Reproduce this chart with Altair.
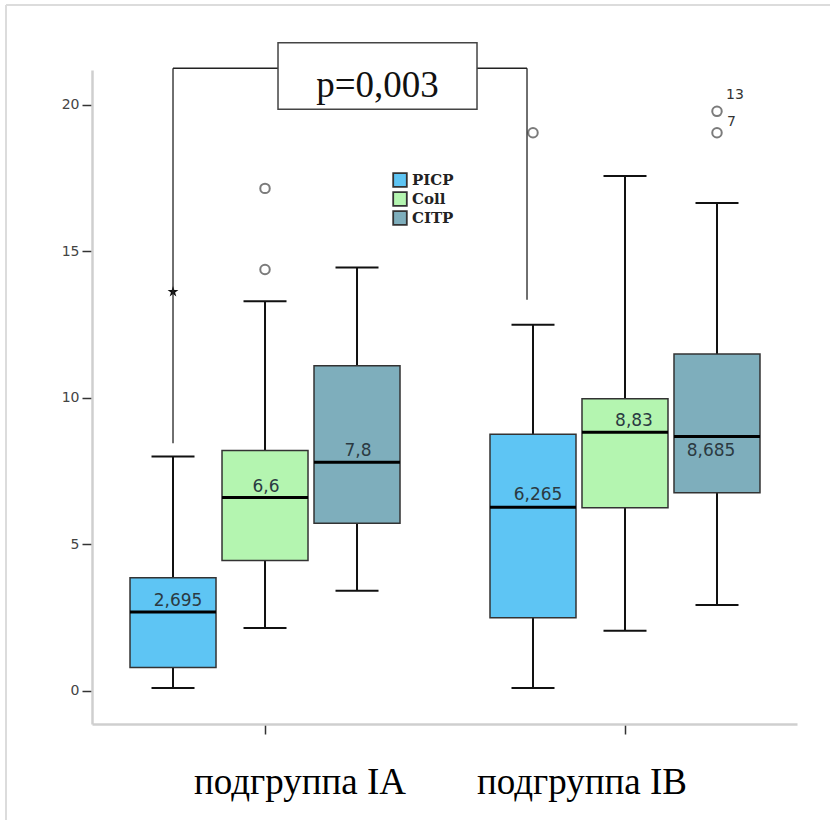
import altair as alt
import pandas as pd

# ---- values ----------------------------------------------------------------
groups = ["подгруппа IA", "подгруппа IB"]
markers = ["PICP", "Coll", "CITP"]
colors = ["#5ec5f4", "#b4f5b0", "#7eaebc"]

# box statistics, group-major order (IA: PICP, Coll, CITP; IB: PICP, Coll, CITP)
whisker_low = [0.10, 2.15, 3.42, 0.10, 2.05, 2.93]
quart1 = [0.80, 4.45, 5.72, 2.50, 6.25, 6.76]
medians = [2.695, 6.6, 7.8, 6.265, 8.83, 8.685]
quart3 = [3.86, 8.20, 11.10, 8.76, 9.97, 11.50]
whisker_high = [8.00, 13.30, 14.45, 12.50, 17.57, 16.65]
median_text = ["2,695", "6,6", "7,8", "6,265", "8,83", "8,685"]

# outliers: (group index, marker index, value, case label)
outlier_group = [0, 0, 1, 1]
outlier_marker = [1, 1, 0, 2]
outlier_value = [17.15, 14.38, 19.05, 19.05]
outlier_case = ["", "", "", "7"]
extreme_group = [0, 1]
extreme_marker = [0, 2]
extreme_value = [13.62, 19.78]
extreme_kind = ["star", "circle"]
extreme_case = ["", "13"]

p_text = "p=0,003"

# ---- layout ----------------------------------------------------------------
W, H = 705, 654
X_DOM = [0.5194, 2.4778]
Y_DOM = [-1.13, 21.19]
PX_X = W / (X_DOM[1] - X_DOM[0])
PX_Y = H / (Y_DOM[1] - Y_DOM[0])
SLOT = 92 / PX_X          # spacing between boxes inside a group
BOX_HALF = 43 / PX_X
CAP_HALF = 21.5 / PX_X

label_dx_px = [5, 1, 1, 5, 9, -6]
label_dy_px = [6, 6, 6, 7, 6, -20]   # positive = above the median line
group_label_shift_px = [35, -43]

rows = []
for gi, g in enumerate(groups):
    for mi, m in enumerate(markers):
        i = gi * 3 + mi
        c = gi + 1 + (mi - 1) * SLOT
        rows.append(dict(
            group=g, marker=m, cx=c,
            bl=c - BOX_HALF, br=c + BOX_HALF,
            cl=c - CAP_HALF, cr=c + CAP_HALF,
            lo=whisker_low[i], q1=quart1[i], med=medians[i],
            q3=quart3[i], hi=whisker_high[i], txt=median_text[i],
            tx=c + label_dx_px[i] / PX_X,
            ty=medians[i] + label_dy_px[i] / PX_Y,
        ))
boxes = pd.DataFrame(rows)

def center(gi, mi):
    return gi + 1 + (mi - 1) * SLOT

outl = pd.DataFrame(dict(
    x=[center(g, m) for g, m in zip(outlier_group, outlier_marker)],
    y=outlier_value, case=outlier_case))
extr = pd.DataFrame(dict(
    x=[center(g, m) for g, m in zip(extreme_group, extreme_marker)],
    y=extreme_value, kind=extreme_kind, case=extreme_case))

xs = alt.Scale(domain=X_DOM, nice=False, zero=False)
ys = alt.Scale(domain=Y_DOM, nice=False, zero=False)
x_axis = alt.Axis(values=[1, 2], labels=False, title=None, grid=False,
                  tickColor="#333", tickSize=10, tickWidth=1.5,
                  domainColor="#cfcfcf", domainWidth=2.5)
y_axis = alt.Axis(values=[0, 5, 10, 15, 20], title=None, grid=False,
                  labelFont="DejaVu Sans", labelFontSize=14, labelColor="#444",
                  labelPadding=3, tickColor="#333", tickSize=10, tickWidth=1.5,
                  domainColor="#cfcfcf", domainWidth=2.5)

def X(field):
    return alt.X(field, type="quantitative", scale=xs, axis=x_axis)

def Y(field):
    return alt.Y(field, type="quantitative", scale=ys, axis=y_axis)

base = alt.Chart(boxes)

whiskers = base.mark_rule(color="#111", strokeWidth=2).encode(
    x=X("cx"), y=Y("lo"), y2="hi")
caps_lo = base.mark_rule(color="#111", strokeWidth=2).encode(
    x=X("cl"), x2="cr", y=Y("lo"))
caps_hi = base.mark_rule(color="#111", strokeWidth=2).encode(
    x=X("cl"), x2="cr", y=Y("hi"))
rects = base.mark_rect(stroke="#333", strokeWidth=1.5).encode(
    x=X("bl"), x2="br", y=Y("q1"), y2="q3",
    fill=alt.Fill("marker:N", scale=alt.Scale(domain=markers, range=colors),
                  legend=alt.Legend(orient="none", legendX=300, legendY=102,
                                    title=None, symbolType="square",
                                    symbolSize=185, symbolStrokeColor="#333",
                                    symbolStrokeWidth=1.8, labelFont="DejaVu Serif",
                                    labelFontSize=15, labelFontWeight="bold",
                                    labelColor="#222",
                                    labelOffset=4, rowPadding=-5, padding=0)))
med_lines = base.mark_rule(color="#000", strokeWidth=3).encode(
    x=X("bl"), x2="br", y=Y("med"))
med_text = base.mark_text(font="DejaVu Sans", fontSize=17, color="#2b3a42",
                          baseline="alphabetic", align="center").encode(
    x=X("tx"), y=Y("ty"), text="txt:N")

circles = alt.Chart(outl).mark_point(shape="circle", size=90, filled=False,
                                     color="#444", strokeWidth=2).encode(
    x=X("x"), y=Y("y"))
circle_lbl = alt.Chart(outl).mark_text(font="DejaVu Sans", fontSize=14, color="#333",
                                       align="left", baseline="middle", dx=10, dy=-11).encode(
    x=X("x"), y=Y("y"), text="case:N")
ext_circle = alt.Chart(extr).transform_filter(alt.datum.kind == "circle").mark_point(
    shape="circle", size=90, filled=False, color="#444", strokeWidth=2).encode(
    x=X("x"), y=Y("y"))
ext_lbl = alt.Chart(extr).mark_text(font="DejaVu Sans", fontSize=14, color="#333",
                                    align="left", baseline="middle", dx=9, dy=-16).encode(
    x=X("x"), y=Y("y"), text="case:N")
STAR = ("M0,-1L0.2245,-0.309L0.951,-0.309L0.363,0.118L0.588,0.809L0,0.382"
        "L-0.588,0.809L-0.363,0.118L-0.951,-0.309L-0.2245,-0.309Z")
ext_star = alt.Chart(extr).transform_filter(alt.datum.kind == "star").mark_point(
    shape=STAR, size=130, filled=True, color="#111", opacity=1).encode(
    x=X("x"), y=Y("y"))

# significance bracket with p-value box
left_x = center(0, 0)
right_x = 1 + 262 / PX_X
br_y = 21.25
box_x1, box_x2 = 1 + 13 / PX_X, 1 + 212 / PX_X
bracket = pd.DataFrame(dict(
    x=[left_x, left_x, box_x2, right_x],
    x2=[left_x, box_x1, right_x, right_x],
    y=[8.45, br_y, br_y, br_y],
    y2=[br_y, br_y, br_y, 13.35]))
bracket_lines = alt.Chart(bracket).mark_rule(color="#222", strokeWidth=1.3).encode(
    x=X("x"), x2="x2", y=Y("y"), y2="y2")
pbox = pd.DataFrame(dict(x=[box_x1], x2=[box_x2], y=[22.12], y2=[19.85],
                         tx=[(box_x1 + box_x2) / 2], ty=[20.28], t=[p_text]))
p_rect = alt.Chart(pbox).mark_rect(fill="white", stroke="#444", strokeWidth=1.5).encode(
    x=X("x"), x2="x2", y=Y("y"), y2="y2")
p_lbl = alt.Chart(pbox).mark_text(font="Liberation Serif", fontSize=37, color="#111",
                                  baseline="alphabetic", align="center").encode(
    x=X("tx"), y=Y("ty"), text="t:N")

glabels = pd.DataFrame(dict(
    x=[i + 1 + s / PX_X for i, s in enumerate(group_label_shift_px)], t=groups))
group_lbl = alt.Chart(glabels).mark_text(font="Liberation Serif", fontSize=37,
                                         color="#000", baseline="alphabetic",
                                         align="center").encode(
    x=X("x"), y=alt.value(H + 70), text="t:N")

# light frame around the figure
frame = alt.Chart(pd.DataFrame({"a": [0]}))
frame_top = frame.mark_rule(color="#dcdcdc", strokeWidth=2).encode(
    x=alt.value(-86), x2=alt.value(W + 40), y=alt.value(-65))
frame_left = frame.mark_rule(color="#dcdcdc", strokeWidth=2).encode(
    x=alt.value(-86), y=alt.value(-65), y2=alt.value(H + 100))

chart = alt.layer(
    frame_top, frame_left,
    whiskers, caps_lo, caps_hi, rects, med_lines, med_text,
    circles, circle_lbl, ext_circle, ext_lbl, ext_star,
    bracket_lines, p_rect, p_lbl, group_lbl,
).properties(
    width=W, height=H,
    background="white",
    autosize=alt.AutoSizeParams(type="none"),
    padding={"left": 92, "top": 70, "right": 33, "bottom": 96},
).configure_view(stroke=None)

chart.save("out.html", embed_options={"renderer": "svg", "actions": False})
